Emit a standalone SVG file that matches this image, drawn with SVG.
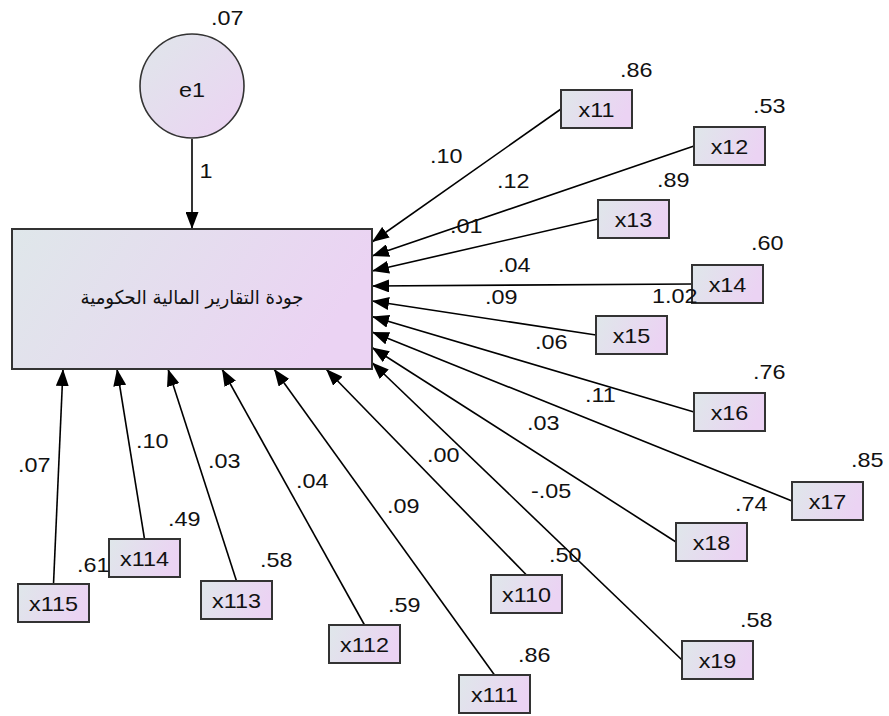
<svg xmlns="http://www.w3.org/2000/svg" width="889" height="716" viewBox="0 0 889 716">
  <defs>
    <linearGradient id="boxFill" x1="0" y1="0" x2="1" y2="0.25">
      <stop offset="0" stop-color="#dfe7ea"/>
      <stop offset="1" stop-color="#ebd3f3"/>
    </linearGradient>
    <linearGradient id="ovalFill" x1="0" y1="0" x2="1" y2="1">
      <stop offset="0" stop-color="#dfe6ea"/>
      <stop offset="1" stop-color="#ecd3f3"/>
    </linearGradient>
    <marker id="head" markerUnits="userSpaceOnUse" markerWidth="18" markerHeight="13" viewBox="0 0 18 13" refX="17" refY="6.5" orient="auto">
      <path d="M0,0 L17,6.5 L0,13 z" fill="#000"/>
    </marker>
    <style>
      .box { fill: url(#boxFill); stroke: #333; stroke-width: 2; }
      .oval { fill: url(#ovalFill); stroke: #333; stroke-width: 1.6; }
      .path { stroke: #000; stroke-width: 1.6; fill: none; marker-end: url(#head); }
      text { font-family: "Liberation Sans", Arial, sans-serif; font-size: 20px; fill: #111; }
      .mid { text-anchor: middle; }
      .ar { font-family: "DejaVu Sans", "Noto Sans", sans-serif; font-size: 19px; }
    </style>
  </defs>
  <rect width="889" height="716" fill="#fff"/>

  <!-- regression paths -->
  <g id="connectors">
    <line class="path" x1="192" y1="139" x2="192" y2="229"/>
    <line class="path" x1="561" y1="109" x2="372" y2="242"/>
    <line class="path" x1="694" y1="146" x2="372" y2="256"/>
    <line class="path" x1="598" y1="219" x2="372" y2="271"/>
    <line class="path" x1="692" y1="284" x2="372" y2="286"/>
    <line class="path" x1="596" y1="335" x2="372" y2="301"/>
    <line class="path" x1="694" y1="412" x2="372" y2="316.5"/>
    <line class="path" x1="792" y1="501" x2="372" y2="332"/>
    <line class="path" x1="676" y1="542" x2="372" y2="347.5"/>
    <line class="path" x1="682" y1="660" x2="372" y2="362.5"/>
    <line class="path" x1="526.5" y1="575" x2="326" y2="369"/>
    <line class="path" x1="494.5" y1="675" x2="274" y2="369"/>
    <line class="path" x1="364.5" y1="625" x2="222" y2="369"/>
    <line class="path" x1="236.5" y1="581" x2="168" y2="369"/>
    <line class="path" x1="144.5" y1="539" x2="117" y2="369"/>
    <line class="path" x1="53.5" y1="584" x2="63" y2="369"/>
  </g>

  <!-- path coefficients -->
  <g id="weights">
    <text transform="translate(199.5,178) scale(1.17,1)">1</text>
    <text transform="translate(430,163) scale(1.17,1)">.10</text>
    <text transform="translate(497,188) scale(1.17,1)">.12</text>
    <text transform="translate(450,233) scale(1.17,1)">.01</text>
    <text transform="translate(498,272) scale(1.17,1)">.04</text>
    <text transform="translate(485,304) scale(1.17,1)">.09</text>
    <text transform="translate(535,349) scale(1.17,1)">.06</text>
    <text transform="translate(585,402) scale(1.17,1)">.11</text>
    <text transform="translate(527,430) scale(1.17,1)">.03</text>
    <text transform="translate(531,498) scale(1.17,1)">-.05</text>
    <text transform="translate(427,462) scale(1.17,1)">.00</text>
    <text transform="translate(387,513) scale(1.17,1)">.09</text>
    <text transform="translate(296,488) scale(1.17,1)">.04</text>
    <text transform="translate(208,468) scale(1.17,1)">.03</text>
    <text transform="translate(136,448) scale(1.17,1)">.10</text>
    <text transform="translate(18,472) scale(1.17,1)">.07</text>
  </g>

  <!-- latent error term -->
  <g id="e1">
    <circle class="oval" cx="192" cy="86" r="52"/>
    <text class="mid" transform="translate(192,97) scale(1.17,1)">e1</text>
    <text transform="translate(211,25) scale(1.17,1)">.07</text>
  </g>

  <!-- dependent construct -->
  <g id="quality">
    <rect class="box" x="12" y="229" width="360" height="140"/>
    <text class="mid ar" x="192" y="304" textLength="223" lengthAdjust="spacingAndGlyphs">جودة التقارير المالية الحكومية</text>
  </g>

  <!-- observed items with squared multiple correlations -->
  <g id="x11"><rect class="box" x="561" y="90" width="71" height="38"/><text class="mid" transform="translate(596.5,116.5) scale(1.17,1)">x11</text><text transform="translate(620,77) scale(1.17,1)">.86</text></g>
  <g id="x12"><rect class="box" x="694" y="127" width="71" height="38"/><text class="mid" transform="translate(729.5,153.5) scale(1.17,1)">x12</text><text transform="translate(753,113) scale(1.17,1)">.53</text></g>
  <g id="x13"><rect class="box" x="598" y="200" width="71" height="38"/><text class="mid" transform="translate(633.5,226.5) scale(1.17,1)">x13</text><text transform="translate(657,187) scale(1.17,1)">.89</text></g>
  <g id="x14"><rect class="box" x="692" y="265" width="71" height="38"/><text class="mid" transform="translate(727.5,291.5) scale(1.17,1)">x14</text><text transform="translate(751,250) scale(1.17,1)">.60</text><text transform="translate(652,303) scale(1.17,1)">1.02</text></g>
  <g id="x15"><rect class="box" x="596" y="316" width="71" height="38"/><text class="mid" transform="translate(631.5,342.5) scale(1.17,1)">x15</text></g>
  <g id="x16"><rect class="box" x="694" y="393" width="71" height="38"/><text class="mid" transform="translate(729.5,419.5) scale(1.17,1)">x16</text><text transform="translate(753,379) scale(1.17,1)">.76</text></g>
  <g id="x17"><rect class="box" x="792" y="482" width="71" height="38"/><text class="mid" transform="translate(827.5,508.5) scale(1.17,1)">x17</text><text transform="translate(851,467) scale(1.17,1)">.85</text></g>
  <g id="x18"><rect class="box" x="676" y="523" width="71" height="38"/><text class="mid" transform="translate(711.5,549.5) scale(1.17,1)">x18</text><text transform="translate(735,511) scale(1.17,1)">.74</text></g>
  <g id="x19"><rect class="box" x="682" y="641" width="71" height="38"/><text class="mid" transform="translate(717.5,667.5) scale(1.17,1)">x19</text><text transform="translate(740,627) scale(1.17,1)">.58</text></g>
  <g id="x110"><rect class="box" x="491" y="575" width="71" height="38"/><text class="mid" transform="translate(526.5,601.5) scale(1.17,1)">x110</text><text transform="translate(549,562) scale(1.17,1)">.50</text></g>
  <g id="x111"><rect class="box" x="459" y="675" width="71" height="38"/><text class="mid" transform="translate(494.5,701.5) scale(1.17,1)">x111</text><text transform="translate(518,662) scale(1.17,1)">.86</text></g>
  <g id="x112"><rect class="box" x="329" y="625" width="71" height="38"/><text class="mid" transform="translate(364.5,651.5) scale(1.17,1)">x112</text><text transform="translate(388,612) scale(1.17,1)">.59</text></g>
  <g id="x113"><rect class="box" x="201" y="581" width="71" height="38"/><text class="mid" transform="translate(236.5,607.5) scale(1.17,1)">x113</text><text transform="translate(260,567) scale(1.17,1)">.58</text></g>
  <g id="x114"><rect class="box" x="109" y="539" width="71" height="38"/><text class="mid" transform="translate(144.5,565.5) scale(1.17,1)">x114</text><text transform="translate(168,526) scale(1.17,1)">.49</text></g>
  <g id="x115"><rect class="box" x="18" y="584" width="71" height="38"/><text class="mid" transform="translate(53.5,610.5) scale(1.17,1)">x115</text><text transform="translate(77,572) scale(1.17,1)">.61</text></g>
</svg>
